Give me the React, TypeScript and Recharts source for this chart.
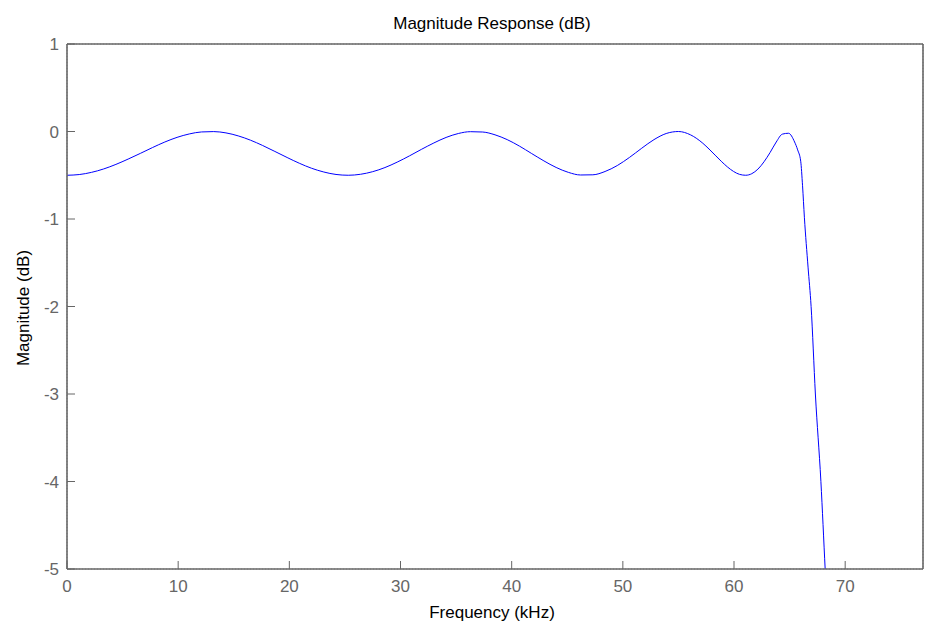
import React from 'react';
import { LineChart, Line, XAxis, YAxis, CartesianGrid } from 'recharts';

// frequency (kHz) and magnitude (dB)
const FREQ = [
  0, 1, 2, 3, 4, 5, 6, 7, 8, 9, 10, 11, 12, 13, 14, 15, 16, 17, 18, 19, 20,
  21, 22, 23, 24, 25, 26, 27, 28, 29, 30, 31, 32, 33, 34, 35, 36, 37, 38, 39, 40,
  41, 42, 43, 44, 45, 46, 47, 48, 49, 50, 51, 52, 52.5, 53, 53.5, 54, 54.5, 55, 55.5,
  56, 56.5, 57, 57.5, 58, 58.5, 59, 59.5, 59.75, 60, 60.15, 60.3, 60.6, 60.85, 61.2,
  61.65, 62.0, 62.3,
];
const MAG = [
  -0.5, -0.492, -0.467, -0.428, -0.376, -0.315, -0.25, -0.183, -0.12, -0.067, -0.028,
  -0.005, -0.001, -0.016, -0.05, -0.099, -0.16, -0.228, -0.297, -0.363, -0.42,
  -0.463, -0.491, -0.5, -0.489, -0.459, -0.412, -0.35, -0.279, -0.203, -0.131,
  -0.068, -0.023, -0.002, -0.006, -0.038, -0.093, -0.167, -0.252, -0.336, -0.411,
  -0.467, -0.497, -0.495, -0.457, -0.389, -0.296, -0.191, -0.093, -0.023, 0,
  -0.039, -0.135, -0.2, -0.27, -0.34, -0.404, -0.456, -0.49, -0.5,
  -0.482, -0.43, -0.346, -0.239, -0.12, -0.03, -0.02, -0.12, -0.21, -0.34, -0.62,
  -0.98, -1.55, -2.0, -3.0, -4.0, -5.0, -5.8,
];
const X_TICKS = [0, 10, 20, 30, 40, 50, 60, 70];
const Y_TICKS = [-5, -4, -3, -2, -1, 0, 1];
// inner ticks only: the top/right axes carry these, and the grid follows them
const X_INNER = [10, 20, 30, 40, 50, 60];
const Y_INNER = [-4, -3, -2, -1, 0];

const data = FREQ.map((f, i) => ({ f, mag: MAG[i] }));

const AXIS = '#666';
const FONT = '"Liberation Sans", Arial, sans-serif';
const X_GAP = 11;
const Y_GAP = 8;
const TICK_LEN = 8;

const XTick = (props: any) => {
  const { x, y, payload } = props;
  const base = y - X_GAP;
  return (
    <g>
      <line x1={x} x2={x} y1={base} y2={base - TICK_LEN} stroke={AXIS} />
      <text x={x} y={y} dy="0.71em" textAnchor="middle" fill="#666" fontSize={17} fontFamily={FONT}>
        {payload.value}
      </text>
    </g>
  );
};

const YTick = (props: any) => {
  const { x, y, payload } = props;
  const base = x + Y_GAP;
  return (
    <g>
      <line x1={base} x2={base + TICK_LEN} y1={y} y2={y} stroke={AXIS} />
      <text x={x} y={y} dy="0.355em" textAnchor="end" fill="#666" fontSize={17} fontFamily={FONT}>
        {payload.value}
      </text>
    </g>
  );
};

const axisLine = { stroke: AXIS, strokeWidth: 1.6 };

export default function App() {
  return (
    <div style={{ position: 'absolute', left: 0, top: 0, width: 938, height: 626, background: '#fff' }}>
      <LineChart width={938} height={626} data={data} margin={{ top: 43, right: 14, bottom: 0, left: 0 }}>
        <CartesianGrid stroke="#aaa" strokeDasharray="1 2" />
        {/* top and right axes (default ids): frame edge, inward ticks, grid positions */}
        <XAxis
          dataKey="f"
          orientation="top"
          type="number"
          domain={[0, 70]}
          ticks={X_INNER}
          allowDataOverflow
          height={1}
          axisLine={axisLine}
          tickLine={{ stroke: AXIS }}
          tickSize={-TICK_LEN}
          tick={false}
        />
        <YAxis
          orientation="right"
          type="number"
          domain={[-5, 1]}
          ticks={Y_INNER}
          allowDataOverflow
          width={1}
          axisLine={axisLine}
          tickLine={{ stroke: AXIS }}
          tickSize={-TICK_LEN}
          tick={false}
        />
        {/* bottom and left axes: labels and inward ticks */}
        <XAxis
          xAxisId="bottom"
          orientation="bottom"
          type="number"
          domain={[0, 70]}
          ticks={X_TICKS}
          allowDataOverflow
          height={57}
          axisLine={axisLine}
          tickLine={false}
          tickSize={0}
          tickMargin={X_GAP}
          tick={<XTick />}
        />
        <YAxis
          yAxisId="left"
          orientation="left"
          type="number"
          domain={[-5, 1]}
          ticks={Y_TICKS}
          allowDataOverflow
          width={67}
          axisLine={axisLine}
          tickLine={false}
          tickSize={0}
          tickMargin={Y_GAP}
          tick={<YTick />}
        />
        <Line
          type="monotone"
          dataKey="mag"
          stroke="#0000ff"
          strokeWidth={1}
          dot={false}
          isAnimationActive={false}
        />
      </LineChart>
      <svg width={938} height={626} style={{ position: 'absolute', left: 0, top: 0, pointerEvents: 'none' }}>
        <text x={492} y={29} textAnchor="middle" fontSize={17} fontFamily={FONT} fill="#000">
          Magnitude Response (dB)
        </text>
        <text x={492} y={618} textAnchor="middle" fontSize={17} fontFamily={FONT} fill="#000">
          Frequency (kHz)
        </text>
        <text
          x={0}
          y={0}
          transform="translate(29,308) rotate(-90)"
          textAnchor="middle"
          fontSize={17}
          fontFamily={FONT}
          fill="#000"
        >
          Magnitude (dB)
        </text>
      </svg>
    </div>
  );
}
